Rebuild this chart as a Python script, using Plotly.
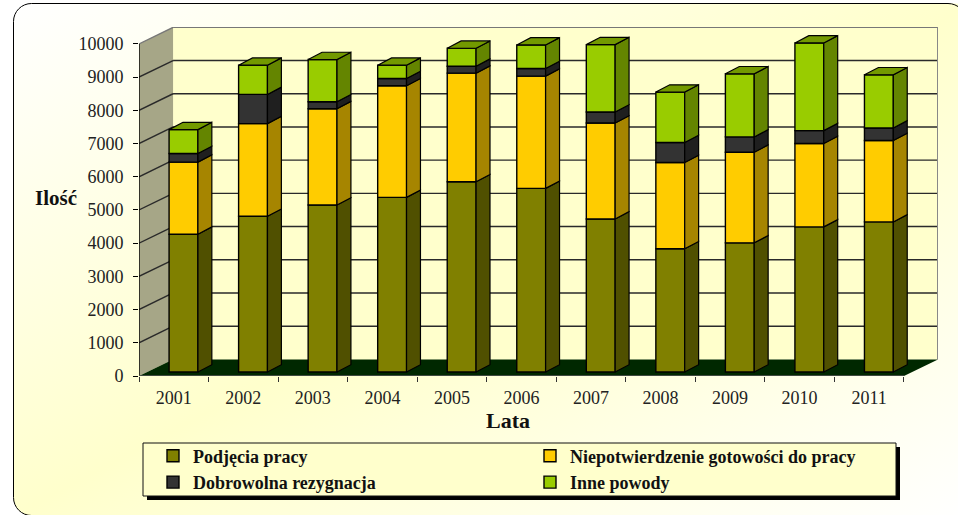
import base64

import numpy as np
import plotly.graph_objects as go

years = ["2001", "2002", "2003", "2004", "2005", "2006", "2007", "2008", "2009", "2010", "2011"]
podjecia = [4150, 4690, 5030, 5260, 5730, 5530, 4610, 3710, 3890, 4370, 4520]
niepotwierdzenie = [2170, 2790, 2900, 3360, 3270, 3380, 2890, 2600, 2730, 2510, 2450]
rezygnacja = [260, 880, 210, 220, 210, 230, 330, 600, 460, 390, 380]
inne = [720, 880, 1270, 400, 540, 710, 2030, 1520, 1900, 2640, 1600]

series = [
    ("Podjęcia pracy", podjecia, "#808000", "#505000"),
    ("Niepotwierdzenie gotowości do pracy", niepotwierdzenie, "#FFCC00", "#A68500"),
    ("Dobrowolna rezygnacja", rezygnacja, "#333333", "#1F1F1F"),
    ("Inne powody", inne, "#99CC00", "#648500"),
]
top_color = "#739900"

y_ticks = list(range(0, 11000, 1000))

# fake depth, in axis units
depth_x = 0.49
depth_y = 500
bar_width = 0.415
bar_shift = 0.14
bar_lift = 120
side_x = 0.2
side_y = 220

xs = np.arange(len(years))
edges = np.arange(len(years) + 1) - 0.5
x_left = edges[0]
x_right = edges[-1]
y_top = y_ticks[-1]

fig = go.Figure()

# front faces, the side and top faces get worked out from the same stack
base = np.zeros(len(years))
for name, values, color, side in series:
    values = np.array(values)
    fig.add_trace(
        go.Bar(
            x=xs + bar_shift,
            y=values,
            base=base + bar_lift,
            width=bar_width,
            name=name,
            marker=dict(color=color, line=dict(color="#000000", width=1.4)),
        )
    )
    px, py = [], []
    for i in range(len(years)):
        right = i + bar_shift + bar_width / 2
        low = base[i] + bar_lift
        high = low + values[i]
        px += [right, right + side_x, right + side_x, right, right, None]
        py += [low, low + side_y, high + side_y, high, low, None]
    fig.add_trace(
        go.Scatter(
            x=px,
            y=py,
            mode="lines",
            fill="toself",
            fillcolor=side,
            line=dict(color="#000000", width=1.2),
            showlegend=False,
            hoverinfo="skip",
        )
    )
    base = base + values

px, py = [], []
for i in range(len(years)):
    left = i + bar_shift - bar_width / 2
    right = left + bar_width
    high = base[i] + bar_lift
    px += [left, right, right + side_x, left + side_x, left, None]
    py += [high, high, high + side_y, high + side_y, high, None]
fig.add_trace(
    go.Scatter(
        x=px,
        y=py,
        mode="lines",
        fill="toself",
        fillcolor=top_color,
        line=dict(color="#000000", width=1.2),
        showlegend=False,
        hoverinfo="skip",
    )
)


def poly(points, fill):
    path = "M " + " L ".join(f"{a},{b}" for a, b in points) + " Z"
    return dict(
        type="path",
        path=path,
        xref="x",
        yref="y",
        fillcolor=fill,
        line=dict(width=0),
        layer="below",
    )


def seg(x0, y0, x1, y1, color="#2A2A2A", width=1.4):
    return dict(
        type="line",
        x0=x0,
        y0=y0,
        x1=x1,
        y1=y1,
        xref="x",
        yref="y",
        line=dict(color=color, width=width),
        layer="below",
    )


back_left = x_left + depth_x
back_right = x_right + depth_x

shapes = [
    poly(
        [(back_left, depth_y), (back_right, depth_y), (back_right, y_top + depth_y), (back_left, y_top + depth_y)],
        "#FFFFCC",
    ),
    poly(
        [(x_left, 0), (back_left, depth_y), (back_left, y_top + depth_y), (x_left, y_top)],
        "#A6A687",
    ),
    poly(
        [(x_left, 0), (x_right, 0), (back_right, depth_y), (back_left, depth_y)],
        "#002800",
    ),
]
for v in y_ticks[1:-1]:
    shapes.append(seg(x_left, v, back_left, v + depth_y))
    shapes.append(seg(back_left, v + depth_y, back_right, v + depth_y))
# wall outline
shapes += [
    seg(x_left, y_top, back_left, y_top + depth_y, "#777777"),
    seg(back_left, y_top + depth_y, back_right, y_top + depth_y, "#777777"),
    seg(back_right, depth_y, back_right, y_top + depth_y, "#888888", 2),
    seg(x_left, 0, x_left, y_top, "#000000", 1.4),
    seg(x_left, 0, x_right, 0, "#555555", 1.6),
]

# legend box and its shadow
shapes += [
    dict(type="rect", xref="paper", yref="paper", x0=8 / 799, x1=761 / 799, y0=-124 / 349, y1=-71 / 349,
         fillcolor="#000000", line=dict(width=0), layer="below"),
    dict(type="rect", xref="paper", yref="paper", x0=4 / 799, x1=757 / 799, y0=-120 / 349, y1=-67 / 349,
         fillcolor="#FFFFCC", line=dict(color="#111111", width=1), layer="below"),
]

# rounded panel behind everything, shapes have no gradient so it is an svg
# the border only runs along the left and the top, the rest falls off the page
panel_svg = """<svg xmlns="http://www.w3.org/2000/svg" width="958" height="515">
<defs><linearGradient id="g" x1="0" y1="0" x2="1" y2="1">
<stop offset="0" stop-color="#FFFFFF"/><stop offset="0.5" stop-color="#FFFFCC"/><stop offset="1" stop-color="#FFFFFF"/>
</linearGradient></defs>
<rect x="13.5" y="3.5" width="960" height="512" rx="18" fill="url(#g)"/>
<path d="M966 60 V21.5 A18 18 0 0 0 948 3.5 H31.5 A18 18 0 0 0 13.5 21.5 V497.5 A18 18 0 0 0 31.5 515.5"
 fill="none" stroke="#000000" stroke-width="1"/>
</svg>"""
panel_uri = "data:image/svg+xml;base64," + base64.b64encode(panel_svg.encode()).decode()

fig.update_layout(
    width=958,
    height=515,
    autosize=False,
    margin=dict(l=139, r=20, t=27, b=139, autoexpand=False),
    barmode="overlay",
    paper_bgcolor="#FFFFFF",
    plot_bgcolor="rgba(0,0,0,0)",
    font=dict(family="Liberation Serif", size=18, color="#222222"),
    shapes=shapes,
    images=[
        dict(
            source=panel_uri,
            xref="paper",
            yref="paper",
            x=-139 / 799,
            y=1 + 27 / 349,
            sizex=958 / 799,
            sizey=515 / 349,
            sizing="stretch",
            xanchor="left",
            yanchor="top",
            layer="below",
        )
    ],
    legend=dict(
        orientation="h",
        x=14 / 799,
        xanchor="left",
        y=-61.5 / 349,
        yanchor="top",
        bgcolor="rgba(0,0,0,0)",
        entrywidth=332,
        entrywidthmode="pixels",
        font=dict(family="Liberation Serif", size=18, color="#111111", weight="bold"),
    ),
    annotations=[
        dict(text="<b>Ilość</b>", xref="paper", yref="paper", x=-83 / 799, y=178 / 349, xanchor="center",
             yanchor="middle", showarrow=False, font=dict(size=21, color="#111111")),
        dict(text="<b>Lata</b>", xref="paper", yref="paper", x=369 / 799, y=-44 / 349, xanchor="center",
             yanchor="middle", showarrow=False, font=dict(size=22, color="#111111")),
    ],
)

fig.update_xaxes(
    range=[x_left, back_right],
    tickmode="array",
    tickvals=xs,
    ticktext=years,
    ticks="",
    ticklabelstandoff=9,
    showgrid=False,
    zeroline=False,
    showline=False,
    minor=dict(tickmode="array", tickvals=edges, ticks="outside", ticklen=5, tickcolor="#333333", tickwidth=1.2),
)
fig.update_yaxes(
    range=[0, y_top + depth_y + 10],
    tickmode="array",
    tickvals=y_ticks,
    tickformat="d",
    ticks="outside",
    ticklen=5,
    tickcolor="#000000",
    tickwidth=1.3,
    ticklabelstandoff=6,
    showgrid=False,
    zeroline=False,
    showline=False,
)

# the page keeps its default 8px body margin otherwise
fig.write_html(
    "out.html",
    config=dict(displayModeBar=False),
    post_script="document.body.style.margin = '0';",
)
